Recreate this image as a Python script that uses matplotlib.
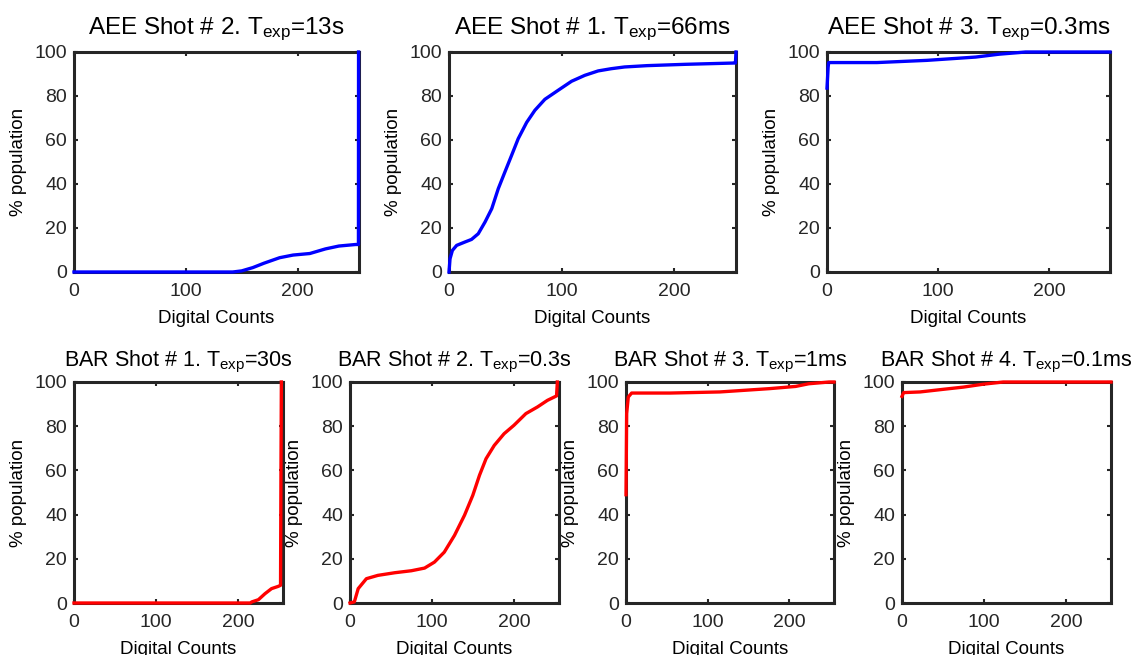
"""Cumulative pixel population vs digital counts for AEE and BAR shots."""
import matplotlib
matplotlib.use("Agg")
import matplotlib.pyplot as plt

plt.rcParams["font.family"] = ["Liberation Sans", "DejaVu Sans"]
plt.rcParams["mathtext.fontset"] = "custom"
plt.rcParams["mathtext.rm"] = "Liberation Sans"
plt.rcParams["mathtext.it"] = "Liberation Sans"

W, H = 1140, 655

# ---- data ----
aee2_x = [0, 142, 150, 160, 170, 184, 196, 211, 225, 237, 252, 254.5, 254.6]
aee2_y = [0, 0, 0.5, 2, 4, 6.5, 7.7, 8.4, 10.5, 11.8, 12.5, 12.5, 100]

aee1_x = [0, 0.9, 3, 6.8, 14, 20, 26, 32, 38, 43.8, 49.7, 55.6, 61.5, 69, 76.3, 85.2,
          97, 108.9, 120.7, 132.5, 144, 156, 176, 210, 254, 254.5, 255]
aee1_y = [0, 6, 9.8, 12.1, 13.6, 14.8, 17.4, 22.7, 28.8, 37.9, 45.5, 53, 60.6, 68, 73.5,
          78.5, 82.6, 86.7, 89.4, 91.4, 92.4, 93.2, 93.8, 94.4, 95, 95, 100]

aee3_x = [0, 1, 1.5, 45, 90, 134, 155, 179, 255]
aee3_y = [83.6, 93, 95.2, 95.2, 96.2, 97.7, 99, 100, 100]

bar1_x = [0, 215, 217, 225, 233, 241, 249, 252, 252.5, 253]
bar1_y = [0, 0, 0.5, 1.5, 4.2, 6.5, 7.5, 8, 60, 100]

bar2_x = [0, 5.3, 10, 20, 34, 54.7, 74.9, 91, 103, 115, 127.5, 139.7, 149.8, 158, 166,
          176, 188, 200, 214.6, 228.7, 240.9, 252, 253]
bar2_y = [0, 0.5, 6.5, 11, 12.5, 13.7, 14.6, 15.8, 18.5, 23, 30.6, 39.7, 48.7, 57.8, 65.3,
          71.3, 76.6, 80.4, 85.7, 88.7, 91.7, 93.7, 100]

bar3_x = [0, 0.8, 2.8, 6.9, 54, 115, 176, 208, 224, 249, 255]
bar3_y = [49, 85.7, 93.2, 95, 95, 95.5, 97, 98, 99.2, 100, 100]

bar4_x = [0, 2, 22, 50.6, 75, 99, 123.5, 255]
bar4_y = [93.5, 95.2, 95.5, 96.7, 97.7, 99, 100, 100]

titles = [
    r"AEE Shot # 2. T$_{\mathrm{exp}}$=13s",
    r"AEE Shot # 1. T$_{\mathrm{exp}}$=66ms",
    r"AEE Shot # 3. T$_{\mathrm{exp}}$=0.3ms",
    r"BAR Shot # 1. T$_{\mathrm{exp}}$=30s",
    r"BAR Shot # 2. T$_{\mathrm{exp}}$=0.3s",
    r"BAR Shot # 3. T$_{\mathrm{exp}}$=1ms",
    r"BAR Shot # 4. T$_{\mathrm{exp}}$=0.1ms",
]
series = [(aee2_x, aee2_y), (aee1_x, aee1_y), (aee3_x, aee3_y),
          (bar1_x, bar1_y), (bar2_x, bar2_y), (bar3_x, bar3_y), (bar4_x, bar4_y)]
colors = ["#0000ff"] * 3 + ["#ff0000"] * 4

# axes boxes in pixels: left, right, top, bottom
boxes = [
    (74, 359, 52, 272), (449, 736, 52, 272), (827, 1110, 52, 272),
    (74, 283, 382, 603), (350, 559, 382, 603), (626, 834, 382, 603), (902, 1111, 382, 603),
]
title_sizes = [17.5] * 3 + [15.5] * 4
title_pads = [13] * 3 + [11] * 4

fig = plt.figure(figsize=(W / 100, H / 100), dpi=100)
fig.patch.set_facecolor("white")

for i, ((l, r, t, b), (xs, ys), c, ttl) in enumerate(zip(boxes, series, colors, titles)):
    ax = fig.add_axes([l / W, 1 - b / H, (r - l) / W, (b - t) / H])
    ax.plot(xs, ys, color=c, lw=2.4, solid_joinstyle="round", clip_on=False, zorder=3)
    ax.set_xlim(0, 255)
    ax.set_ylim(0, 100)
    ax.set_xticks([0, 100, 200])
    ax.set_yticks([0, 20, 40, 60, 80, 100])
    ax.tick_params(direction="in", top=True, right=True, length=3, width=1.5,
                   labelsize=14, colors="#262626")
    ax.tick_params(axis="x", pad=8)
    ax.tick_params(axis="y", pad=5)
    for sp in ax.spines.values():
        sp.set_linewidth(2.2)
        sp.set_color("#262626")
    ax.set_xlabel("Digital Counts", fontsize=13.5, color="#000000", labelpad=7)
    ax.set_ylabel("% population", fontsize=13.5, color="#000000", labelpad=5)
    ax.set_title(ttl, fontsize=title_sizes[i], color="#000000", pad=title_pads[i])

fig.savefig("out.png", dpi=100)
